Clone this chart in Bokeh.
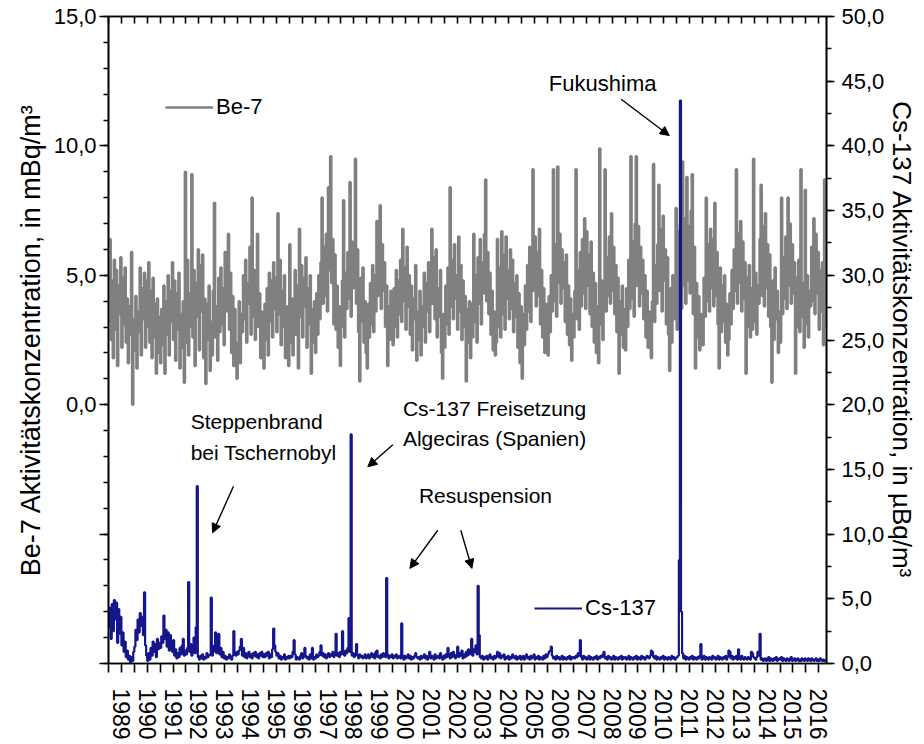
import math
from bokeh.plotting import figure
from bokeh.models import (Range1d, LinearAxis, FixedTicker, Legend, LegendItem,
                          Label, Arrow, NormalHead)
from bokeh.embed import file_html
from bokeh.resources import INLINE

FONT = "Liberation Sans"
GRAY = "#808080"
NAVY = "#15158c"

years = list(range(1989, 2017))
steps_per_year = 24

be7_1989 = [3.2, 6.4, 2.5, 4.8, 1.8, 5.6, 2.9, 5.2, 1.5, 4.6, 3.5, 5.7, 2.2, 4.9, 3.1, 5.3, 2.4, 4.1, 1.6, 3.8, 2.7, 5.9, 0.0, 3.3]
be7_1990 = [2.1, 4.2, 1.4, 3.6, 2.8, 5.3, 1.9, 4.5, 3.3, 5.1, 2.2, 4.8, 3.0, 5.5, 2.4, 4.4, 1.8, 4.9, 2.6, 3.9, 1.2, 4.1, 2.0, 3.4]
be7_1991 = [1.6, 3.7, 2.3, 4.6, 1.2, 4.0, 2.7, 5.0, 1.9, 4.4, 3.2, 5.5, 2.5, 4.8, 1.7, 4.3, 2.9, 5.1, 1.4, 3.5, 2.2, 4.0, 0.85, 9.0]
be7_1992 = [2.4, 5.6, 1.9, 4.3, 3.0, 8.9, 2.6, 5.2, 1.5, 4.7, 3.4, 6.0, 2.1, 5.4, 3.6, 5.8, 1.8, 4.1, 0.8, 3.9, 2.5, 4.6, 1.3, 3.2]
be7_1993 = [1.9, 4.4, 7.8, 2.6, 3.8, 1.7, 4.9, 2.8, 5.3, 3.1, 4.5, 2.3, 5.9, 3.6, 4.8, 6.6, 2.9, 5.1, 2.0, 4.2, 1.5, 3.7, 2.4, 1.0]
be7_1994 = [2.2, 4.0, 1.6, 3.5, 2.8, 5.0, 3.3, 5.6, 2.4, 4.7, 3.9, 6.1, 2.7, 8.0, 3.4, 5.2, 2.5, 4.6, 6.6, 3.0, 4.3, 1.8, 3.6, 2.1]
be7_1995 = [1.4, 3.9, 2.5, 4.5, 1.9, 5.1, 3.2, 4.8, 2.6, 5.5, 3.7, 4.9, 2.8, 7.4, 3.5, 5.6, 2.3, 4.4, 3.0, 5.0, 1.8, 3.8, 2.2, 1.5]
be7_1996 = [6.2, 2.4, 4.1, 1.9, 3.6, 5.2, 2.7, 4.6, 1.4, 6.8, 3.4, 5.4, 2.6, 4.9, 3.8, 5.7, 2.2, 4.5, 3.1, 5.0, 1.2, 3.7, 2.4, 4.0]
be7_1997 = [2.0, 4.3, 2.7, 5.0, 3.3, 5.5, 8.0, 3.9, 6.1, 4.2, 6.6, 3.6, 8.4, 5.2, 9.6, 4.7, 6.4, 3.1, 5.8, 2.9, 4.6, 2.2, 3.8, 1.5]
be7_1998 = [3.0, 4.8, 7.9, 2.6, 5.1, 3.7, 5.9, 4.1, 8.6, 3.4, 6.3, 4.5, 5.7, 9.5, 3.9, 6.0, 2.8, 0.9, 4.9, 3.2, 5.3, 2.4, 4.0, 2.0]
be7_1999 = [1.4, 3.9, 2.6, 4.7, 3.1, 5.4, 2.8, 5.0, 3.6, 7.1, 4.2, 5.8, 7.7, 3.7, 6.2, 4.4, 5.5, 3.0, 4.6, 1.5, 3.8, 2.5, 4.4, 2.9]
be7_2000 = [2.3, 4.5, 3.0, 5.2, 2.6, 4.8, 3.5, 5.6, 3.2, 6.8, 4.0, 5.3, 2.9, 6.1, 3.8, 5.0, 2.7, 4.6, 2.1, 4.1, 3.3, 5.4, 1.7, 3.6]
be7_2001 = [2.5, 4.4, 1.9, 3.8, 3.0, 5.1, 2.4, 4.7, 3.6, 5.5, 2.8, 4.9, 6.8, 3.9, 5.7, 3.3, 6.0, 2.6, 4.5, 3.4, 5.2, 2.0, 1.0, 3.5]
be7_2002 = [2.2, 4.6, 3.1, 5.3, 2.7, 8.4, 3.8, 5.6, 3.3, 6.2, 4.1, 5.0, 2.9, 6.5, 3.6, 5.4, 2.5, 4.8, 3.0, 4.2, 0.9, 3.7, 2.4, 4.0]
be7_2003 = [1.8, 3.9, 2.6, 6.6, 3.2, 5.0, 2.4, 5.7, 3.9, 6.4, 3.1, 5.5, 4.3, 6.6, 8.7, 4.0, 5.9, 3.5, 5.1, 2.7, 4.4, 2.1, 3.6, 1.9]
be7_2004 = [2.4, 6.4, 3.0, 5.3, 2.6, 6.7, 3.5, 5.8, 2.9, 6.5, 4.1, 5.2, 3.3, 6.0, 3.7, 5.6, 2.8, 4.7, 3.4, 5.0, 2.2, 4.3, 1.6, 3.8]
be7_2005 = [1.0, 3.5, 2.3, 4.6, 2.9, 5.4, 3.6, 6.1, 3.2, 5.7, 9.1, 4.4, 6.5, 3.8, 5.9, 4.2, 6.8, 3.1, 5.2, 2.6, 4.5, 2.0, 3.9, 2.5]
be7_2006 = [1.9, 4.2, 2.8, 5.0, 3.6, 9.1, 4.0, 6.2, 3.4, 9.2, 4.7, 6.6, 3.9, 6.0, 4.5, 5.5, 3.2, 5.8, 2.7, 4.6, 2.3, 4.1, 1.7, 3.5]
be7_2007 = [2.6, 4.4, 9.1, 3.3, 5.2, 2.9, 5.9, 3.8, 6.4, 4.3, 7.2, 3.7, 6.7, 4.6, 5.8, 3.5, 6.3, 3.0, 5.1, 2.4, 4.7, 2.0, 3.8, 1.6]
be7_2008 = [9.9, 3.1, 4.8, 2.5, 4.1, 9.1, 3.6, 5.7, 4.2, 6.5, 3.9, 7.4, 4.4, 6.1, 3.5, 5.4, 2.8, 4.9, 1.2, 4.0, 2.7, 4.6, 2.2, 3.7]
be7_2009 = [2.1, 4.5, 3.0, 5.6, 3.7, 9.6, 4.1, 6.3, 3.4, 7.0, 9.6, 4.6, 6.9, 3.8, 6.1, 4.3, 5.6, 3.3, 5.0, 2.6, 4.4, 2.2, 3.6, 2.8]
be7_2010 = [1.8, 4.0, 9.3, 3.2, 5.4, 3.9, 6.2, 8.5, 4.4, 6.8, 3.6, 7.3, 4.8, 6.0, 3.1, 5.7, 2.7, 1.3, 4.5, 2.4, 5.0, 3.3, 4.2, 7.6]
be7_2011 = [2.9, 6.7, 4.1, 7.0, 3.7, 9.4, 4.6, 7.2, 3.9, 8.8, 4.8, 6.9, 4.3, 7.5, 8.9, 3.5, 6.1, 1.4, 4.7, 2.6, 4.2, 2.1, 3.5, 2.5]
be7_2012 = [2.3, 4.9, 3.4, 8.0, 4.0, 6.2, 3.6, 6.8, 4.5, 6.4, 3.8, 7.8, 4.2, 5.9, 3.1, 1.4, 5.3, 2.8, 4.6, 3.2, 5.0, 2.4, 3.9, 1.9]
be7_2013 = [2.5, 4.3, 3.1, 5.2, 3.7, 6.0, 4.4, 9.1, 3.9, 6.6, 4.7, 7.1, 3.6, 6.3, 4.1, 5.5, 1.2, 4.9, 3.0, 5.4, 2.6, 4.5, 2.9, 9.5]
be7_2014 = [3.2, 5.1, 2.7, 4.6, 3.9, 6.4, 8.5, 4.2, 6.9, 3.8, 7.4, 4.5, 6.2, 3.4, 5.8, 3.0, 0.85, 4.8, 2.5, 5.3, 3.3, 4.4, 2.0, 3.6]
be7_2015 = [2.4, 8.0, 3.5, 5.7, 4.1, 6.5, 3.7, 8.0, 4.6, 7.0, 3.9, 6.2, 4.3, 5.5, 1.2, 4.9, 3.0, 5.6, 2.8, 9.1, 3.4, 4.7, 2.2, 8.3]
be7_2016 = [3.1, 5.0, 2.6, 4.4, 3.8, 6.1, 4.0, 7.2, 3.5, 6.6, 4.3, 5.9, 2.9, 5.2, 3.6, 5.5, 2.3, 8.7, 3.0]

# ---- Cs-137 (µBq/m3), half-monthly values ----
cs_1989 = [2.8, 4.3, 1.9, 4.6, 2.5, 4.9, 3.4, 4.7, 1.6, 4.2, 2.3, 3.6, 1.4, 2.4, 0.9, 1.7, 0.5, 1.0, 0.3, 0.6, 0.1, 0.5, 0.2, 0.9]
cs_1990 = [1.3, 2.6, 1.8, 3.4, 2.4, 3.9, 2.9, 3.6, 2.2, 5.5, 1.4, 0.6, 0.2, 0.8, 0.3, 1.2, 0.6, 1.7, 0.9, 1.5, 0.5, 1.9, 1.1, 1.6]
cs_1991 = [1.2, 2.1, 1.6, 3.7, 1.9, 2.6, 1.3, 2.4, 1.0, 2.2, 1.5, 0.9, 1.8, 0.6, 1.1, 0.4, 0.8, 0.5, 1.2, 0.7, 1.4, 1.9, 0.6, 1.0]
cs_1992 = [0.7, 1.2, 6.3, 0.9, 1.5, 0.6, 1.1, 2.0, 0.8, 2.8, 13.7, 0.5, 0.3, 0.6, 0.4, 0.7, 0.3, 0.5, 0.4, 0.8, 0.5, 0.6, 0.7, 5.1]
cs_1993 = [0.6, 0.9, 1.4, 2.4, 0.8, 1.1, 2.3, 0.7, 1.2, 0.5, 0.9, 0.4, 0.6, 0.3, 0.5, 0.4, 0.7, 0.5, 0.3, 0.6, 2.5, 0.8, 0.6, 0.9]
cs_1994 = [0.7, 1.0, 1.3, 1.9, 0.6, 1.2, 0.5, 0.8, 0.4, 0.6, 0.9, 0.5, 0.7, 0.4, 0.8, 0.6, 0.9, 0.5, 0.7, 0.4, 0.8, 0.6, 0.9, 0.5]
cs_1995 = [0.7, 0.5, 0.8, 0.6, 0.9, 0.4, 0.7, 0.5, 1.1, 2.7, 1.4, 0.9, 0.6, 0.8, 0.4, 0.6, 0.3, 0.5, 0.4, 0.7, 0.3, 0.5, 0.4, 0.6]
cs_1996 = [0.4, 0.6, 0.5, 0.9, 1.8, 0.7, 0.3, 0.5, 0.4, 0.3, 0.6, 0.8, 0.4, 0.5, 1.2, 0.6, 0.4, 0.5, 0.3, 0.7, 0.4, 1.2, 0.3, 0.5]
cs_1997 = [0.4, 0.7, 0.5, 0.6, 0.9, 1.4, 0.6, 0.8, 0.5, 0.7, 0.4, 0.6, 0.8, 0.5, 0.7, 0.6, 0.9, 0.5, 0.7, 2.3, 0.6, 0.8, 0.5, 0.9]
cs_1998 = [0.7, 2.5, 0.9, 0.6, 1.0, 0.8, 1.2, 3.5, 0.9, 17.7, 0.6, 0.8, 0.5, 0.7, 1.5, 0.6, 0.4, 0.7, 0.5, 0.6, 0.4, 0.5, 0.7, 0.4]
cs_1999 = [0.5, 0.7, 0.4, 0.6, 0.8, 0.5, 0.7, 0.4, 0.9, 1.0, 0.5, 0.6, 0.4, 0.7, 0.5, 0.8, 0.6, 0.5, 6.6, 0.7, 0.4, 0.6, 0.5, 0.7]
cs_2000 = [0.4, 0.6, 0.5, 0.7, 0.4, 0.5, 0.6, 0.4, 3.1, 0.6, 0.3, 0.6, 0.4, 0.5, 0.7, 0.4, 0.6, 0.3, 0.5, 0.4, 0.6, 0.8, 0.5, 0.4]
cs_2001 = [0.5, 0.3, 0.6, 0.4, 0.5, 0.7, 0.4, 0.6, 0.3, 0.5, 0.9, 0.4, 0.6, 0.5, 0.3, 0.7, 0.4, 0.5, 0.6, 0.4, 0.8, 0.5, 0.3, 0.6]
cs_2002 = [0.4, 0.7, 0.5, 1.2, 0.6, 0.4, 0.8, 0.5, 0.9, 0.6, 0.4, 0.7, 1.3, 0.5, 0.8, 0.6, 1.0, 0.4, 0.7, 0.5, 0.9, 0.6, 1.1, 0.7]
cs_2003 = [0.8, 1.9, 0.6, 1.1, 0.9, 1.4, 0.7, 6.0, 2.2, 0.5, 0.4, 0.6, 0.3, 0.5, 0.4, 0.6, 0.3, 0.5, 0.7, 0.4, 0.5, 0.3, 0.6, 0.4]
cs_2004 = [0.6, 0.9, 0.5, 0.8, 0.4, 0.6, 0.5, 0.7, 0.3, 0.5, 0.4, 0.6, 0.3, 0.5, 0.4, 0.7, 0.5, 0.4, 0.6, 0.3, 0.5, 0.4, 0.6, 0.3]
cs_2005 = [0.4, 0.6, 0.3, 0.5, 0.7, 0.4, 0.5, 0.3, 0.6, 0.4, 0.5, 0.7, 0.3, 0.5, 0.4, 0.6, 0.3, 0.5, 0.4, 0.3, 0.6, 0.4, 0.7, 0.5]
cs_2006 = [0.7, 0.9, 1.0, 1.3, 0.6, 0.4, 0.5, 0.3, 0.6, 0.4, 0.5, 0.3, 0.4, 0.6, 0.3, 0.5, 0.4, 0.3, 0.5, 0.4, 0.6, 0.3, 0.5, 0.4]
cs_2007 = [0.5, 0.4, 0.6, 0.5, 0.8, 0.6, 1.8, 0.5, 0.3, 0.6, 0.4, 0.5, 0.3, 0.4, 0.6, 0.3, 0.5, 0.4, 0.3, 0.5, 0.4, 0.6, 0.3, 0.5]
cs_2008 = [0.4, 0.6, 0.5, 0.7, 0.9, 0.4, 0.5, 0.3, 0.6, 0.4, 0.5, 0.3, 0.4, 0.6, 0.3, 0.5, 0.4, 0.3, 0.5, 0.4, 0.6, 0.3, 0.5, 0.4]
cs_2009 = [0.5, 0.3, 0.4, 0.6, 0.3, 0.5, 0.4, 0.3, 0.5, 0.4, 0.6, 0.3, 0.5, 0.4, 0.3, 0.6, 0.4, 0.5, 0.3, 0.4, 0.6, 0.5, 0.4, 0.6]
cs_2010 = [1.0, 0.9, 0.5, 0.4, 0.6, 0.3, 0.5, 0.4, 0.3, 0.5, 0.4, 0.6, 0.3, 0.5, 0.4, 0.3, 0.5, 0.4, 0.3, 0.6, 0.4, 0.5, 0.3, 0.4]
cs_2011 = [0.5, 0.6, 8.0, 43.5, 4.0, 0.8, 0.4, 0.6, 0.3, 0.5, 0.4, 0.3, 0.5, 0.4, 0.6, 0.3, 0.5, 0.4, 0.3, 0.5, 0.4, 0.6, 1.5, 0.3]
cs_2012 = [0.4, 0.6, 0.3, 0.5, 0.4, 0.3, 0.5, 0.4, 0.3, 0.6, 0.4, 0.5, 0.3, 0.4, 0.6, 0.3, 0.5, 0.4, 0.3, 0.5, 0.4, 0.6, 0.3, 0.5]
cs_2013 = [1.0, 0.9, 0.4, 0.6, 0.3, 0.5, 0.4, 0.6, 0.3, 1.1, 0.4, 0.3, 0.6, 0.4, 0.3, 0.5, 0.4, 0.3, 0.5, 0.4, 0.3, 0.9, 0.8, 0.5]
cs_2014 = [0.4, 0.3, 0.5, 0.9, 0.6, 2.3, 0.3, 0.4, 0.2, 0.3, 0.4, 0.2, 0.3, 0.5, 0.2, 0.4, 0.3, 0.2, 0.4, 0.3, 0.5, 0.2, 0.3, 0.4]
cs_2015 = [0.3, 0.5, 0.2, 0.4, 0.3, 0.2, 0.4, 0.3, 0.2, 0.4, 0.5, 0.2, 0.3, 0.4, 0.2, 0.3, 0.4, 0.2, 0.3, 0.2, 0.4, 0.3, 0.2, 0.4]
cs_2016 = [0.3, 0.2, 0.4, 0.3, 0.2, 0.4, 0.3, 0.2, 0.3, 0.4, 0.2, 0.3, 0.2, 0.4, 0.3, 0.2, 0.3, 0.2, 0.3]

be7_by_year = [be7_1989, be7_1990, be7_1991, be7_1992, be7_1993, be7_1994, be7_1995,
               be7_1996, be7_1997, be7_1998, be7_1999, be7_2000, be7_2001, be7_2002,
               be7_2003, be7_2004, be7_2005, be7_2006, be7_2007, be7_2008, be7_2009,
               be7_2010, be7_2011, be7_2012, be7_2013, be7_2014, be7_2015, be7_2016]
cs_by_year = [cs_1989, cs_1990, cs_1991, cs_1992, cs_1993, cs_1994, cs_1995,
              cs_1996, cs_1997, cs_1998, cs_1999, cs_2000, cs_2001, cs_2002,
              cs_2003, cs_2004, cs_2005, cs_2006, cs_2007, cs_2008, cs_2009,
              cs_2010, cs_2011, cs_2012, cs_2013, cs_2014, cs_2015, cs_2016]


def flatten(by_year):
    t, v = [], []
    for yr, vals in zip(years, by_year):
        for i, val in enumerate(vals):
            t.append(yr + i / steps_per_year)
            v.append(val)
    return t, v


be7_t, be7_v = flatten(be7_by_year)
cs_t, cs_v = flatten(cs_by_year)

# axis tick definitions
x_major = [y + 0.5 for y in years]
x_minor = [float(y) for y in years] + [2017.0]
x_labels = {y + 0.5: str(y) for y in years}
left_major = [-10, -5, 0, 5, 10, 15]
left_labels = {-10: "", -5: "", 0: "0,0", 5: "5,0", 10: "10,0", 15: "15,0"}
right_major = list(range(0, 51, 5))
right_labels = {k: f"{k},0" for k in right_major}

p = figure(width=923, height=742, x_range=Range1d(1989.0, 2016.8),
           y_range=Range1d(-10, 15), output_backend="svg", toolbar_location=None,
           x_axis_location=None, y_axis_location=None,
           min_border_left=108, min_border_right=97, min_border_top=16, min_border_bottom=79)
p.extra_y_ranges = {"cs": Range1d(0, 50)}
p.xgrid.grid_line_color = None
p.ygrid.grid_line_color = None
p.outline_line_color = "black"
p.outline_line_width = 1.6
p.background_fill_color = "white"
p.border_fill_color = "white"


def style_axis(ax, label_size):
    ax.axis_line_color = "black"
    ax.axis_line_width = 1.6
    ax.major_tick_line_color = "black"
    ax.minor_tick_line_color = "black"
    ax.major_tick_line_width = 1.6
    ax.minor_tick_line_width = 1.6
    ax.major_label_text_font = FONT
    ax.major_label_text_font_size = label_size
    ax.major_label_text_color = "black"
    ax.axis_label_text_font = FONT
    ax.axis_label_text_font_size = "26px"
    ax.axis_label_text_font_style = "normal"
    ax.axis_label_text_color = "black"


xb = LinearAxis(ticker=FixedTicker(ticks=x_major, minor_ticks=x_minor),
                major_label_overrides=x_labels, major_label_orientation="vertical")
style_axis(xb, "23px")
xb.major_tick_out = 9
xb.major_tick_in = 0
xb.minor_tick_out = 9
xb.minor_tick_in = 0
xb.major_label_standoff = 16
p.add_layout(xb, "below")

xt = LinearAxis(ticker=FixedTicker(ticks=x_major, minor_ticks=x_minor),
                major_label_overrides={k: "" for k in x_major})
style_axis(xt, "1px")
xt.major_tick_out = 0
xt.major_tick_in = 7
xt.minor_tick_out = 0
xt.minor_tick_in = 7
xt.major_label_standoff = 0
p.add_layout(xt, "above")

yl = LinearAxis(ticker=FixedTicker(ticks=left_major, minor_ticks=list(range(-10, 16))),
                major_label_overrides=left_labels,
                axis_label="Be-7 Aktivitätskonzentration, in mBq/m³")
style_axis(yl, "22px")
yl.axis_label_text_font_size = "27px"
yl.major_tick_out = 9
yl.major_tick_in = 0
yl.minor_tick_out = 5
yl.minor_tick_in = 0
yl.major_label_standoff = 3
yl.axis_label_standoff = 5
p.add_layout(yl, "left")

yr = LinearAxis(y_range_name="cs",
                ticker=FixedTicker(ticks=right_major, minor_ticks=[i * 2.5 for i in range(21)]),
                major_label_overrides=right_labels,
                axis_label="Cs-137 Aktivitätskonzentration, in µBq/m³")
style_axis(yr, "22px")
yr.major_tick_out = 8
yr.major_tick_in = 0
yr.minor_tick_out = 5
yr.minor_tick_in = 0
yr.major_label_standoff = 7
yr.axis_label_standoff = 0
p.add_layout(yr, "right")

r_be = p.step(be7_t, be7_v, mode="after", line_color=GRAY, line_width=2.6)
r_cs = p.step(cs_t, cs_v, mode="after", line_color=NAVY, line_width=2.2, y_range_name="cs")

# legends
for rend, name, loc in [(r_be, "Be-7", (57, 543)), (r_cs, "Cs-137", (426, 42))]:
    lg = Legend(items=[LegendItem(label=name, renderers=[rend])], location=loc,
                padding=0, margin=0, spacing=0, glyph_width=48, glyph_height=24,
                label_height=24, label_standoff=3, label_text_font=FONT,
                label_text_font_size="22px", label_text_color="black",
                background_fill_alpha=0, border_line_alpha=0)
    p.add_layout(lg, "center")

# annotations (x in years, y in Cs-137 units)
notes = [
    ("Fukushima", 2006.05, 44.8, "22px"),
    ("Steppenbrand", 1992.18, 18.7, "21px"),
    ("bei Tschernobyl", 1992.18, 16.3, "21px"),
    ("Cs-137 Freisetzung", 2000.40, 19.7, "21px"),
    ("Algeciras (Spanien)", 2000.40, 17.4, "21px"),
    ("Resuspension", 2001.02, 13.0, "21px"),
]
for txt, nx, ny, fs in notes:
    p.add_layout(Label(x=nx, y=ny, y_range_name="cs", text=txt, text_font=FONT,
                       text_font_size=fs, text_color="black", text_baseline="middle",
                       text_align="left"))

arrows = [
    (2008.85, 43.6, 2010.71, 40.8),
    (1993.84, 13.7, 1993.03, 10.1),
    (2000.01, 16.9, 1999.04, 15.2),
    (2001.75, 10.3, 2000.67, 7.35),
    (2002.64, 10.3, 2003.07, 7.35),
]
for x0, y0, x1, y1 in arrows:
    p.add_layout(Arrow(end=NormalHead(size=9, fill_color="black", line_color="black"),
                       x_start=x0, y_start=y0, x_end=x1, y_end=y1,
                       y_range_name="cs", line_color="black", line_width=1.4))

open("out.html", "w").write(file_html(p, INLINE))
